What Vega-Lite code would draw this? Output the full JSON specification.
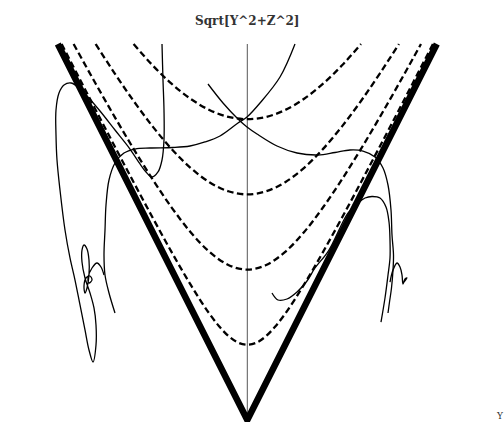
{
  "$schema": "https://vega.github.io/schema/vega-lite/v6.json",
  "width": 504,
  "height": 376,
  "autosize": {"type": "none"},
  "padding": {"top": 44, "left": 0, "right": 0, "bottom": 2},
  "background": "white",
  "config": {"view": {"stroke": null}},
  "datasets": {
    "axisline": [{"x": 0, "y": -0.01, "y2": 1}],
    "cone": [{"i": 1, "x": -1, "y": 1}, {"i": 2, "x": 0, "y": 0}, {"i": 3, "x": 1, "y": 1}],
    "hyp": [
      {"a": 0.2, "x": -0.9798, "y": 1}, {"a": 0.2, "x": -0.9, "y": 0.922}, {"a": 0.2, "x": -0.8, "y": 0.8246}, {"a": 0.2, "x": -0.7, "y": 0.728}, {"a": 0.2, "x": -0.6, "y": 0.6325}, {"a": 0.2, "x": -0.5, "y": 0.5385}, {"a": 0.2, "x": -0.4, "y": 0.4472}, {"a": 0.2, "x": -0.3, "y": 0.3606}, {"a": 0.2, "x": -0.2, "y": 0.2828}, {"a": 0.2, "x": -0.15, "y": 0.25}, {"a": 0.2, "x": -0.1, "y": 0.2236}, {"a": 0.2, "x": -0.05, "y": 0.2062}, {"a": 0.2, "x": 0, "y": 0.2}, {"a": 0.2, "x": 0.05, "y": 0.2062}, {"a": 0.2, "x": 0.1, "y": 0.2236}, {"a": 0.2, "x": 0.15, "y": 0.25}, {"a": 0.2, "x": 0.2, "y": 0.2828}, {"a": 0.2, "x": 0.3, "y": 0.3606}, {"a": 0.2, "x": 0.4, "y": 0.4472}, {"a": 0.2, "x": 0.5, "y": 0.5385}, {"a": 0.2, "x": 0.6, "y": 0.6325}, {"a": 0.2, "x": 0.7, "y": 0.728}, {"a": 0.2, "x": 0.8, "y": 0.8246}, {"a": 0.2, "x": 0.9, "y": 0.922}, {"a": 0.2, "x": 0.9798, "y": 1},
      {"a": 0.4, "x": -0.9165, "y": 1}, {"a": 0.4, "x": -0.8, "y": 0.8944}, {"a": 0.4, "x": -0.7, "y": 0.8062}, {"a": 0.4, "x": -0.6, "y": 0.7211}, {"a": 0.4, "x": -0.5, "y": 0.6403}, {"a": 0.4, "x": -0.4, "y": 0.5657}, {"a": 0.4, "x": -0.3, "y": 0.5}, {"a": 0.4, "x": -0.2, "y": 0.4472}, {"a": 0.4, "x": -0.1, "y": 0.4123}, {"a": 0.4, "x": 0, "y": 0.4}, {"a": 0.4, "x": 0.1, "y": 0.4123}, {"a": 0.4, "x": 0.2, "y": 0.4472}, {"a": 0.4, "x": 0.3, "y": 0.5}, {"a": 0.4, "x": 0.4, "y": 0.5657}, {"a": 0.4, "x": 0.5, "y": 0.6403}, {"a": 0.4, "x": 0.6, "y": 0.7211}, {"a": 0.4, "x": 0.7, "y": 0.8062}, {"a": 0.4, "x": 0.8, "y": 0.8944}, {"a": 0.4, "x": 0.9165, "y": 1},
      {"a": 0.6, "x": -0.8, "y": 1}, {"a": 0.6, "x": -0.7, "y": 0.922}, {"a": 0.6, "x": -0.6, "y": 0.8485}, {"a": 0.6, "x": -0.5, "y": 0.781}, {"a": 0.6, "x": -0.4, "y": 0.7211}, {"a": 0.6, "x": -0.3, "y": 0.6708}, {"a": 0.6, "x": -0.2, "y": 0.6325}, {"a": 0.6, "x": -0.1, "y": 0.6083}, {"a": 0.6, "x": 0, "y": 0.6}, {"a": 0.6, "x": 0.1, "y": 0.6083}, {"a": 0.6, "x": 0.2, "y": 0.6325}, {"a": 0.6, "x": 0.3, "y": 0.6708}, {"a": 0.6, "x": 0.4, "y": 0.7211}, {"a": 0.6, "x": 0.5, "y": 0.781}, {"a": 0.6, "x": 0.6, "y": 0.8485}, {"a": 0.6, "x": 0.7, "y": 0.922}, {"a": 0.6, "x": 0.8, "y": 1},
      {"a": 0.8, "x": -0.6, "y": 1}, {"a": 0.8, "x": -0.5, "y": 0.9434}, {"a": 0.8, "x": -0.4, "y": 0.8944}, {"a": 0.8, "x": -0.3, "y": 0.8544}, {"a": 0.8, "x": -0.2, "y": 0.8246}, {"a": 0.8, "x": -0.1, "y": 0.8062}, {"a": 0.8, "x": 0, "y": 0.8}, {"a": 0.8, "x": 0.1, "y": 0.8062}, {"a": 0.8, "x": 0.2, "y": 0.8246}, {"a": 0.8, "x": 0.3, "y": 0.8544}, {"a": 0.8, "x": 0.4, "y": 0.8944}, {"a": 0.8, "x": 0.5, "y": 0.9434}, {"a": 0.8, "x": 0.6, "y": 1}
    ],
    "traj": [
      {"c": "A", "i": 1, "x": -0.4501, "y": 1.0}, {"c": "A", "i": 2, "x": -0.4449, "y": 0.9043}, {"c": "A", "i": 3, "x": -0.4396, "y": 0.8245}, {"c": "A", "i": 4, "x": -0.4396, "y": 0.7447}, {"c": "A", "i": 5, "x": -0.4501, "y": 0.6915}, {"c": "A", "i": 6, "x": -0.4712, "y": 0.6596}, {"c": "A", "i": 7, "x": -0.5029, "y": 0.6463}, {"c": "A", "i": 8, "x": -0.5346, "y": 0.6596}, {"c": "A", "i": 9, "x": -0.5662, "y": 0.6809}, {"c": "A", "i": 10, "x": -0.619, "y": 0.7207}, {"c": "A", "i": 11, "x": -0.6982, "y": 0.7713}, {"c": "A", "i": 12, "x": -0.7773, "y": 0.8218}, {"c": "A", "i": 13, "x": -0.8459, "y": 0.8617}, {"c": "A", "i": 14, "x": -0.8934, "y": 0.8856}, {"c": "A", "i": 15, "x": -0.9303, "y": 0.8963}, {"c": "A", "i": 16, "x": -0.9673, "y": 0.891}, {"c": "A", "i": 17, "x": -0.9937, "y": 0.8697}, {"c": "A", "i": 18, "x": -1.0095, "y": 0.8245}, {"c": "A", "i": 19, "x": -1.0095, "y": 0.758}, {"c": "A", "i": 20, "x": -1.0042, "y": 0.6915}, {"c": "A", "i": 21, "x": -0.9884, "y": 0.6117}, {"c": "A", "i": 22, "x": -0.962, "y": 0.5053}, {"c": "A", "i": 23, "x": -0.9356, "y": 0.4309}, {"c": "A", "i": 24, "x": -0.9092, "y": 0.3723}, {"c": "A", "i": 25, "x": -0.8828, "y": 0.3059}, {"c": "A", "i": 26, "x": -0.8565, "y": 0.2394}, {"c": "A", "i": 27, "x": -0.8354, "y": 0.1862}, {"c": "A", "i": 28, "x": -0.8142, "y": 0.1543}, {"c": "A", "i": 29, "x": -0.7984, "y": 0.1995}, {"c": "A", "i": 30, "x": -0.7984, "y": 0.2527}, {"c": "A", "i": 31, "x": -0.809, "y": 0.2979}, {"c": "A", "i": 32, "x": -0.8301, "y": 0.3378}, {"c": "A", "i": 33, "x": -0.8565, "y": 0.3777}, {"c": "A", "i": 34, "x": -0.8723, "y": 0.4202}, {"c": "A", "i": 35, "x": -0.8723, "y": 0.4521}, {"c": "A", "i": 36, "x": -0.8617, "y": 0.4654}, {"c": "A", "i": 37, "x": -0.8459, "y": 0.4548}, {"c": "A", "i": 38, "x": -0.8354, "y": 0.4255}, {"c": "A", "i": 39, "x": -0.8354, "y": 0.3856}, {"c": "A", "i": 40, "x": -0.8459, "y": 0.3511}, {"c": "A", "i": 41, "x": -0.8565, "y": 0.3378}, {"c": "A", "i": 42, "x": -0.8617, "y": 0.3564}, {"c": "A", "i": 43, "x": -0.8512, "y": 0.3777}, {"c": "A", "i": 44, "x": -0.8301, "y": 0.383}, {"c": "A", "i": 45, "x": -0.8195, "y": 0.3723}, {"c": "A", "i": 46, "x": -0.8354, "y": 0.3644}, {"c": "A", "i": 47, "x": -0.8406, "y": 0.3777}, {"c": "A", "i": 48, "x": -0.8195, "y": 0.4043}, {"c": "A", "i": 49, "x": -0.7931, "y": 0.4176}, {"c": "A", "i": 50, "x": -0.772, "y": 0.4069}, {"c": "A", "i": 51, "x": -0.7562, "y": 0.3856},
      {"c": "B", "i": 1, "x": 0.2517, "y": 1.0}, {"c": "B", "i": 2, "x": 0.1726, "y": 0.9122}, {"c": "B", "i": 3, "x": 0.067, "y": 0.8431}, {"c": "B", "i": 4, "x": -0.0016, "y": 0.8059}, {"c": "B", "i": 5, "x": -0.0491, "y": 0.7899}, {"c": "B", "i": 6, "x": -0.1441, "y": 0.7553}, {"c": "B", "i": 7, "x": -0.2232, "y": 0.7394}, {"c": "B", "i": 8, "x": -0.3024, "y": 0.7287}, {"c": "B", "i": 9, "x": -0.3921, "y": 0.7247}, {"c": "B", "i": 10, "x": -0.5135, "y": 0.7234}, {"c": "B", "i": 11, "x": -0.5926, "y": 0.7207}, {"c": "B", "i": 12, "x": -0.6507, "y": 0.7101}, {"c": "B", "i": 13, "x": -0.6982, "y": 0.6835}, {"c": "B", "i": 14, "x": -0.7298, "y": 0.6383}, {"c": "B", "i": 15, "x": -0.7456, "y": 0.5718}, {"c": "B", "i": 16, "x": -0.7509, "y": 0.5053}, {"c": "B", "i": 17, "x": -0.7562, "y": 0.4388}, {"c": "B", "i": 18, "x": -0.7509, "y": 0.3856}, {"c": "B", "i": 19, "x": -0.7298, "y": 0.3378}, {"c": "B", "i": 20, "x": -0.6982, "y": 0.2846},
      {"c": "C", "i": 1, "x": -0.2074, "y": 0.8936}, {"c": "C", "i": 2, "x": -0.1282, "y": 0.8431}, {"c": "C", "i": 3, "x": -0.0491, "y": 0.8005}, {"c": "C", "i": 4, "x": -0.0016, "y": 0.7793}, {"c": "C", "i": 5, "x": 0.0512, "y": 0.7606}, {"c": "C", "i": 6, "x": 0.1567, "y": 0.7287}, {"c": "C", "i": 7, "x": 0.2623, "y": 0.7101}, {"c": "C", "i": 8, "x": 0.3731, "y": 0.7048}, {"c": "C", "i": 9, "x": 0.4628, "y": 0.7114}, {"c": "C", "i": 10, "x": 0.542, "y": 0.7181}, {"c": "C", "i": 11, "x": 0.6106, "y": 0.7154}, {"c": "C", "i": 12, "x": 0.6739, "y": 0.6995}, {"c": "C", "i": 13, "x": 0.7161, "y": 0.6702}, {"c": "C", "i": 14, "x": 0.7425, "y": 0.625}, {"c": "C", "i": 15, "x": 0.7583, "y": 0.5585}, {"c": "C", "i": 16, "x": 0.7636, "y": 0.492}, {"c": "C", "i": 17, "x": 0.7715, "y": 0.4388}, {"c": "C", "i": 18, "x": 0.7689, "y": 0.3989}, {"c": "C", "i": 19, "x": 0.7609, "y": 0.3511}, {"c": "C", "i": 20, "x": 0.7504, "y": 0.3138}, {"c": "C", "i": 21, "x": 0.7425, "y": 0.2846},
      {"c": "D", "i": 1, "x": 0.1303, "y": 0.3378}, {"c": "D", "i": 2, "x": 0.162, "y": 0.3191}, {"c": "D", "i": 3, "x": 0.2095, "y": 0.3218}, {"c": "D", "i": 4, "x": 0.2623, "y": 0.3404}, {"c": "D", "i": 5, "x": 0.315, "y": 0.3697}, {"c": "D", "i": 6, "x": 0.3573, "y": 0.4043}, {"c": "D", "i": 7, "x": 0.4285, "y": 0.45}, {"c": "D", "i": 8, "x": 0.531, "y": 0.55}, {"c": "D", "i": 9, "x": 0.5842, "y": 0.5771}, {"c": "D", "i": 10, "x": 0.6211, "y": 0.5904}, {"c": "D", "i": 11, "x": 0.658, "y": 0.5944}, {"c": "D", "i": 12, "x": 0.7003, "y": 0.5904}, {"c": "D", "i": 13, "x": 0.7319, "y": 0.5665}, {"c": "D", "i": 14, "x": 0.7478, "y": 0.5266}, {"c": "D", "i": 15, "x": 0.753, "y": 0.4787}, {"c": "D", "i": 16, "x": 0.753, "y": 0.4309}, {"c": "D", "i": 17, "x": 0.7425, "y": 0.3856}, {"c": "D", "i": 18, "x": 0.7266, "y": 0.3245}, {"c": "D", "i": 19, "x": 0.7055, "y": 0.2606},
      {"c": "F", "i": 1, "x": 0.753, "y": 0.367}, {"c": "F", "i": 2, "x": 0.7689, "y": 0.3989}, {"c": "F", "i": 3, "x": 0.79, "y": 0.4176}, {"c": "F", "i": 4, "x": 0.8058, "y": 0.4069}, {"c": "F", "i": 5, "x": 0.8164, "y": 0.3856}, {"c": "F", "i": 6, "x": 0.8216, "y": 0.3617}, {"c": "F", "i": 7, "x": 0.8322, "y": 0.375}, {"c": "F", "i": 8, "x": 0.8427, "y": 0.3777}, {"c": "F", "i": 9, "x": 0.8269, "y": 0.367}
    ],
    "title": [{"t": "Sqrt[Y^2+Z^2]", "x": 0, "y": 1.0612}],
    "xlabel": [{"t": "Y", "x": 1.3335, "y": -0.0027}]
  },
  "encoding": {
    "x": {"field": "x", "type": "quantitative", "scale": {"domain": [-1.305, 1.3546], "nice": false, "zero": false}, "axis": null},
    "y": {"field": "y", "type": "quantitative", "scale": {"domain": [0, 1], "nice": false, "zero": false}, "axis": null}
  },
  "layer": [
    {"data": {"name": "axisline"}, "mark": {"type": "rule", "color": "#444", "strokeWidth": 0.9}, "encoding": {"y2": {"field": "y2"}}},
    {"data": {"name": "hyp"}, "mark": {"type": "line", "color": "black", "strokeWidth": 2.3, "strokeDash": [6.5, 3.5], "interpolate": "monotone"}, "encoding": {"detail": {"field": "a"}}},
    {"data": {"name": "cone"}, "mark": {"type": "line", "color": "black", "strokeWidth": 6.5, "strokeJoin": "miter", "strokeMiterLimit": 10}, "encoding": {"order": {"field": "i"}}},
    {"data": {"name": "traj"}, "mark": {"type": "line", "color": "black", "strokeWidth": 1.3, "interpolate": "catmull-rom"}, "encoding": {"detail": {"field": "c"}, "order": {"field": "i"}}},
    {"data": {"name": "title"}, "mark": {"type": "text", "font": "DejaVu Serif", "fontSize": 12, "fontWeight": "bold", "color": "#333", "baseline": "middle", "align": "center"}, "encoding": {"text": {"field": "t"}}},
    {"data": {"name": "xlabel"}, "mark": {"type": "text", "font": "DejaVu Serif", "fontSize": 9, "color": "#333", "baseline": "bottom", "align": "center"}, "encoding": {"text": {"field": "t"}}}
  ]
}
